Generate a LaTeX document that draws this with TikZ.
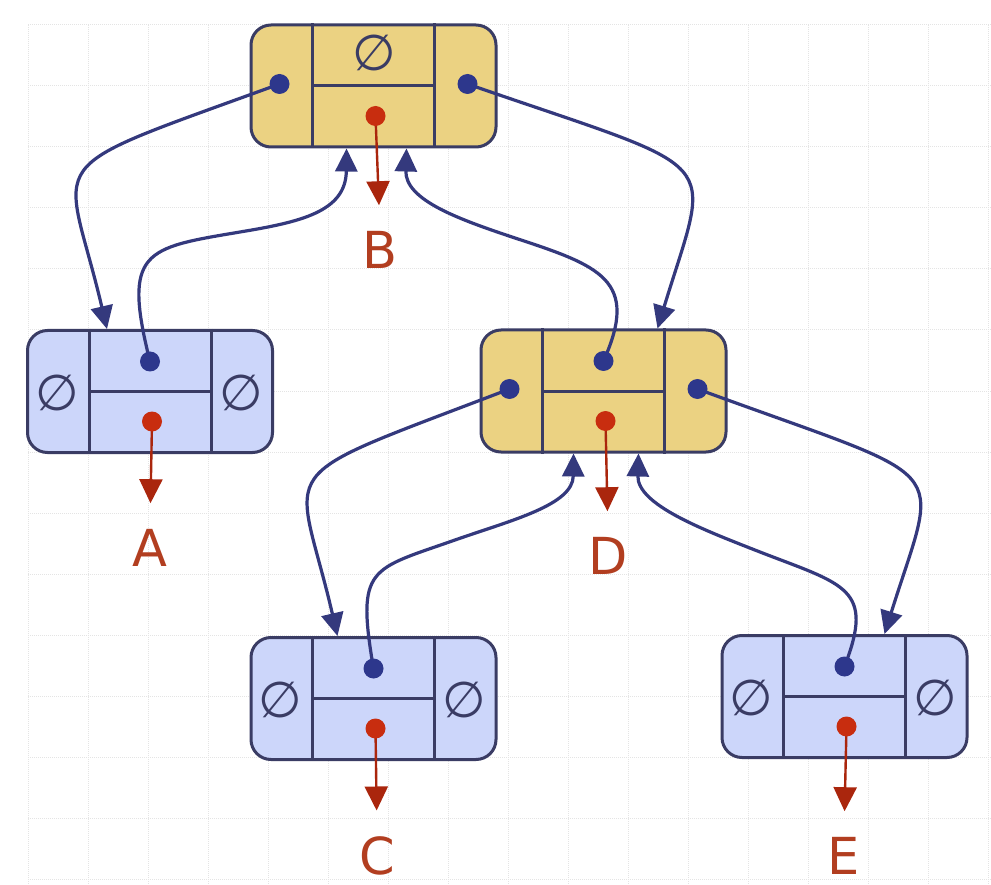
\documentclass[tikz,border=0pt]{standalone}
\usepackage{fontspec}
\setmainfont{DejaVu Sans}
\usetikzlibrary{arrows.meta,calc}
\definecolor{nodeyellow}{RGB}{235,210,130}
\definecolor{nodeblue}{RGB}{204,214,250}
\definecolor{framec}{RGB}{58,60,100}
\definecolor{linkc}{RGB}{52,57,125}
\definecolor{dotc}{RGB}{45,55,140}
\definecolor{valc}{RGB}{200,45,15}
\definecolor{labelc}{RGB}{178,62,32}
\definecolor{gridc}{RGB}{228,228,228}

\begin{document}
\begin{tikzpicture}[x=1pt,y=-1pt,
    listbox/.style={draw=framec,line width=3pt,rounded corners=20pt,
      minimum width=245pt,minimum height=122pt,inner sep=0pt},
    cellline/.style={framec,line width=3pt},
    link/.style={linkc,line width=3.2pt,-{Triangle[length=23pt,width=22pt]}},
    valptr/.style={valc!85!black,line width=2.4pt,-{Triangle[length=24pt,width=23pt]},shorten >=26pt},
    nilmark/.style={text=framec,font=\fontsize{50}{50}\selectfont,inner sep=0pt},
    lbl/.style={text=labelc,font=\fontsize{51}{51}\selectfont,inner sep=0pt},
    gridline/.style={gridc,densely dotted,line width=1pt}]
  \fill[white] (0,0) rectangle (991,885);
  \useasboundingbox (0,0) rectangle (991,885);
  % ---- faint grid ----
  \foreach \gx in {28,88,...,988}
    \draw[gridline] (\gx,25) -- (\gx,885);
  \foreach \gy in {25,86,...,880}
    \draw[gridline] (28,\gy) -- (991,\gy);
  % ---- list nodes: left link | key / value | right link ----
  \foreach \n/\x/\y/\c in {b/373.5/86/nodeyellow, a/150/391.5/nodeblue,
      d/603.5/391/nodeyellow, c/373.5/698.5/nodeblue, e/844.5/696.5/nodeblue}{
    \node[listbox,fill=\c] (\n) at (\x,\y) {};
    \draw[cellline] ([xshift=-61pt]\n.north) -- ([xshift=-61pt]\n.south)
      ([xshift=61pt]\n.north) -- ([xshift=61pt]\n.south)
      ([xshift=-61pt]\n.center) -- ([xshift=61pt]\n.center);
    \coordinate (\n-l) at ($(\n)+(-94,-2)$);
    \coordinate (\n-r) at ($(\n)+(94,-2)$);
    \coordinate (\n-t) at ($(\n)+(0,-30)$);
    \coordinate (\n-v) at ($(\n)+(2,30)$);
  }
  % ---- empty slots ----
  \node[nilmark] (bnil) at ($(b)+(1,-33)$) {∅};
  \foreach \n in {a,c,e}{
    \node[nilmark] (\n nl) at ($(\n)+(-93,1)$) {∅};
    \node[nilmark] (\n nr) at ($(\n)+(91,1)$) {∅};
  }
  % ---- labels ----
  \node[lbl] (la) at (150,548) {A};
  \node[lbl] (lb) at (380,250) {B};
  \node[lbl] (lc) at (377,856) {C};
  \node[lbl] (ld) at (608,556) {D};
  \node[lbl] (le) at (844,856) {E};
  % ---- child links (down) ----
  \draw[link] (b-l) .. controls (30,175) and (65,150) .. ([xshift=-43pt]a.north);
  \draw[link] (d-l) .. controls (262,484) and (296,457) .. ([xshift=-36pt]c.north);
  \draw[link] (b-r) .. controls (730,175) and (712,150) .. ([xshift=54pt]d.north);
  \draw[link] (d-r) .. controls (959,485) and (940,457) .. ([xshift=40pt]e.north);
  % ---- parent links (up) ----
  \draw[link] (a-t) .. controls (122,250) and (145,248) .. (240,232)
    .. controls (300,222) and (346,212) .. ([xshift=-27pt]b.south);
  \draw[link] (d-t) .. controls (640,280) and (600,266) .. (515,238)
    .. controls (458,219) and (405,200) .. ([xshift=33pt]b.south);
  \draw[link] (c-t) .. controls (356,566) and (370,570) .. (455,540)
    .. controls (512,520) and (573,505) .. ([xshift=-30pt]d.south);
  \draw[link] (e-t) .. controls (875,588) and (845,585) .. (760,552)
    .. controls (704,530) and (637,505) .. ([xshift=35pt]d.south);
  % ---- value pointers ----
  \foreach \n/\m in {a/la,b/lb,c/lc,d/ld,e/le}
    \draw[valptr] (\n-v) -- (\m.north);
  % ---- dots ----
  \fill[dotc] (b-l) circle (10pt) (b-r) circle (10pt) (d-l) circle (10pt)
    (d-r) circle (10pt) (a-t) circle (10pt) (c-t) circle (10pt)
    (d-t) circle (10pt) (e-t) circle (10pt);
  \foreach \n in {a,b,c,d,e}
    \fill[valc] (\n-v) circle (10pt);
\end{tikzpicture}
\end{document}
